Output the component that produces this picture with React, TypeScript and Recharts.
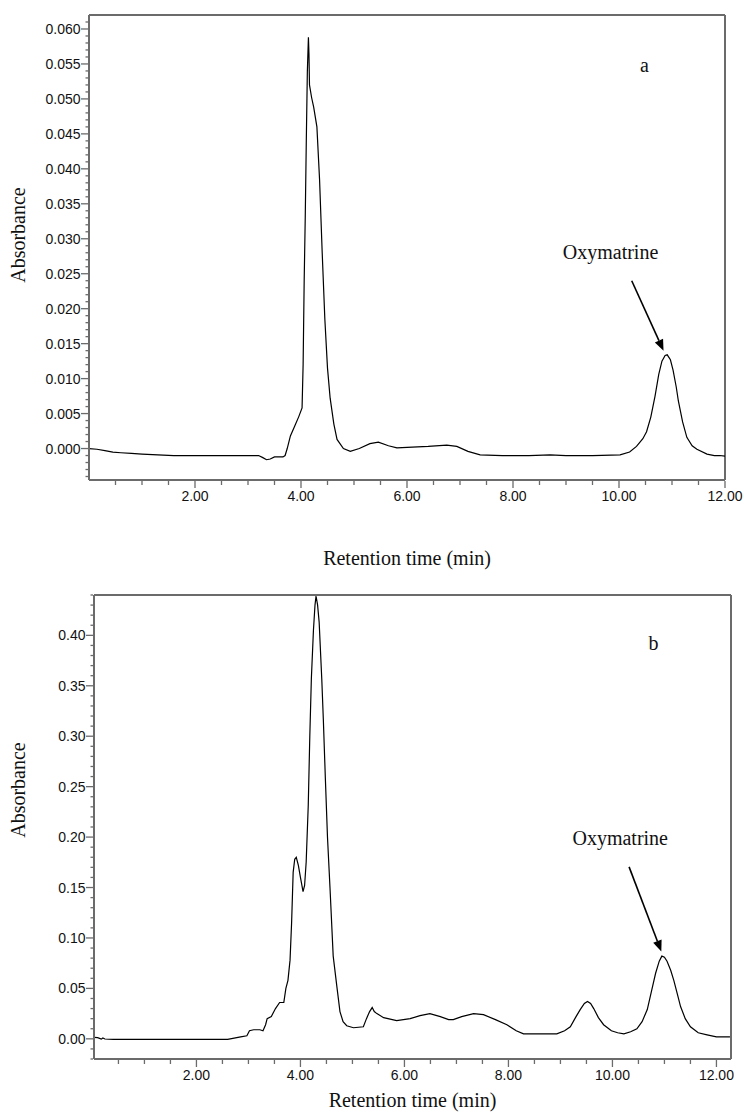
import { LineChart, Line, XAxis, YAxis, ReferenceLine, ReferenceDot } from "recharts";

// chromatogram a (standard)
const timeA = [
  0.0, 0.15, 0.3, 0.45, 0.6, 0.8, 1.0, 1.3, 1.6, 2.0, 2.5, 3.0, 3.2, 3.28, 3.35, 3.42, 3.5, 3.66, 3.7, 3.74,
  3.8, 3.88, 3.96, 4.02, 4.04, 4.06, 4.08, 4.1, 4.12, 4.14, 4.15, 4.16, 4.2, 4.24, 4.3, 4.35, 4.4, 4.45, 4.5,
  4.55, 4.62, 4.68, 4.8, 4.93, 5.1, 5.3, 5.46, 5.65, 5.81, 6.1, 6.4, 6.75, 6.94, 7.15, 7.38, 7.8, 8.3, 8.7,
  9.0, 9.5, 10.02, 10.2, 10.33, 10.45, 10.52, 10.6, 10.68, 10.75, 10.81, 10.87, 10.91, 10.97, 11.02, 11.08,
  11.12, 11.2, 11.28, 11.38, 11.47, 11.66, 11.8, 11.9, 12.0,
];
const absA = [
  0.0, -0.0001, -0.0003, -0.0005, -0.0006, -0.0007, -0.0008, -0.0009, -0.001, -0.001, -0.001, -0.001, -0.001,
  -0.0013, -0.0016, -0.0015, -0.0012, -0.0012, -0.001, 0.0, 0.0018, 0.0032, 0.0046, 0.0058, 0.012, 0.024,
  0.033, 0.044, 0.054, 0.0588, 0.0565, 0.052, 0.0502, 0.0488, 0.046, 0.0385, 0.028, 0.0185, 0.0115, 0.0072,
  0.0035, 0.0013, 0.0, -0.0004, 0.0, 0.0007, 0.0009, 0.0004, 0.0001, 0.0002, 0.0003, 0.0005, 0.0003, -0.0004,
  -0.0009, -0.001, -0.001, -0.0009, -0.001, -0.001, -0.0009, -0.0005, 0.0003, 0.0014, 0.0024, 0.0045, 0.0075,
  0.0106, 0.0125, 0.0133, 0.0134, 0.0127, 0.0112, 0.0088, 0.0068, 0.0038, 0.0016, 0.0004, -0.0001, -0.0008,
  -0.001, -0.001, -0.0011,
];

// chromatogram b (sample)
const timeB = [
  0.03, 0.1, 0.17, 0.2, 0.24, 0.4, 1.0, 2.0, 2.6, 2.7, 2.85, 2.97, 3.02, 3.1, 3.22, 3.28, 3.33, 3.36, 3.44,
  3.52, 3.6, 3.68, 3.72, 3.76, 3.8, 3.83, 3.86, 3.89, 3.92, 3.96, 4.0, 4.05, 4.08, 4.11, 4.15, 4.18, 4.21,
  4.25, 4.28, 4.3, 4.33, 4.36, 4.41, 4.44, 4.48, 4.52, 4.57, 4.63, 4.7, 4.76, 4.82, 4.89, 5.02, 5.21, 5.27,
  5.33, 5.38, 5.42, 5.47, 5.6, 5.85, 6.11, 6.3, 6.49, 6.69, 6.85, 6.94, 7.1, 7.33, 7.52, 7.75, 7.97, 8.15,
  8.29, 8.6, 8.93, 9.08, 9.19, 9.3, 9.38, 9.46, 9.52, 9.58, 9.64, 9.73, 9.83, 9.98, 10.1, 10.22, 10.35,
  10.47, 10.57, 10.67, 10.75, 10.83, 10.9, 10.95, 11.0, 11.05, 11.12, 11.18, 11.25, 11.31, 11.4, 11.5,
  11.65, 11.82, 12.0, 12.26,
];
const absB = [
  0.0015, 0.0012, -0.0003, 0.0008, -0.0002, -0.0005, -0.0005, -0.0005, -0.0005, 0.0005, 0.002, 0.003, 0.008,
  0.009, 0.009, 0.008, 0.014, 0.02, 0.022, 0.03, 0.036, 0.036, 0.05, 0.058, 0.078, 0.115, 0.165, 0.178, 0.18,
  0.172, 0.16, 0.146, 0.152, 0.175, 0.231, 0.3, 0.357, 0.405, 0.43, 0.439, 0.43, 0.413, 0.357, 0.317, 0.257,
  0.2, 0.148, 0.082, 0.052, 0.027, 0.017, 0.013, 0.011, 0.012, 0.02, 0.027, 0.031, 0.027, 0.025, 0.021,
  0.018, 0.02, 0.023, 0.025, 0.022, 0.019, 0.019, 0.022, 0.025, 0.024, 0.019, 0.014, 0.008, 0.005, 0.005,
  0.005, 0.008, 0.012, 0.022, 0.029, 0.035, 0.037, 0.035, 0.03, 0.021, 0.014, 0.008, 0.006, 0.005, 0.007,
  0.01, 0.017, 0.029, 0.047, 0.065, 0.077, 0.082, 0.081, 0.077, 0.068, 0.058, 0.044, 0.032, 0.02, 0.012,
  0.006, 0.004, 0.002, 0.002,
];

const xMajor = [2, 4, 6, 8, 10, 12];
const yMajorA = [0, 0.005, 0.01, 0.015, 0.02, 0.025, 0.03, 0.035, 0.04, 0.045, 0.05, 0.055, 0.06];
const yMajorB = [0, 0.05, 0.1, 0.15, 0.2, 0.25, 0.3, 0.35, 0.4];

const steps = (from: number, to: number, step: number) => {
  const out: number[] = [];
  for (let i = Math.round(from / step); i <= Math.round(to / step); i++) out.push(+(i * step).toFixed(4));
  return out;
};
const xTicks = steps(0.5, 12, 0.5);
const yTicksA = steps(-0.004, 0.061, 0.001);
const yTicksB = steps(-0.02, 0.44, 0.01);

const dataA = timeA.map((t, i) => ({ t, v: absA[i] }));
const dataB = timeB.map((t, i) => ({ t, v: absB[i] }));

const AXIS = "#6b6b6b";
const SANS = "'Liberation Sans', Arial, sans-serif";
const SERIF = "'Liberation Serif', 'Times New Roman', serif";
const isMajor = (v: number, majors: number[]) => majors.some((m) => Math.abs(m - v) < 1e-7);

function XTick(props: any) {
  const { x, y, payload } = props;
  const major = isMajor(payload.value, xMajor);
  return (
    <g>
      <line x1={x} x2={x} y1={y + 1} y2={y + (major ? 8 : 5)} stroke={AXIS} strokeWidth={1.3} />
      {major && (
        <text x={x} y={y + 21} textAnchor="middle" fontFamily={SANS} fontSize={14} fill="#111">
          {payload.value.toFixed(2)}
        </text>
      )}
    </g>
  );
}

function makeYTick(majors: number[], digits: number) {
  return (props: any) => {
    const { x, y, payload } = props;
    const major = isMajor(payload.value, majors);
    return (
      <g>
        <line x1={x - 1} x2={x - (major ? 8 : 3.5)} y1={y} y2={y} stroke={AXIS} strokeWidth={1.3} />
        {major && (
          <text x={x - 8.5} y={y + 5} textAnchor="end" fontFamily={SANS} fontSize={14} fill="#111">
            {payload.value.toFixed(digits)}
          </text>
        )}
      </g>
    );
  };
}

function Arrow(props: any) {
  const { x1, y1, x2, y2 } = props;
  const dx = x2 - x1;
  const dy = y2 - y1;
  const len = Math.sqrt(dx * dx + dy * dy);
  const ux = dx / len;
  const uy = dy / len;
  const hl = 11;
  const hw = 4.5;
  const bx = x2 - ux * hl;
  const by = y2 - uy * hl;
  return (
    <g>
      <line x1={x1} y1={y1} x2={bx} y2={by} stroke="#000" strokeWidth={1.6} />
      <polygon
        points={`${x2},${y2} ${bx - uy * hw},${by + ux * hw} ${bx + uy * hw},${by - ux * hw}`}
        fill="#000"
      />
    </g>
  );
}

const serifText = (label: string, size = 20) => (p: any) => (
  <text x={p.cx} y={p.cy} textAnchor="middle" fontFamily={SERIF} fontSize={size} fill="#111">
    {label}
  </text>
);

function Chromatogram(props: {
  data: { t: number; v: number }[];
  height: number;
  yWidth: number;
  right: number;
  xHeight: number;
  xDomain: [number, number];
  yDomain: [number, number];
  yTicks: number[];
  yTick: any;
  tag: string;
  tagPos: [number, number];
  namePos: [number, number];
  arrow: [[number, number], [number, number]];
  titleY: number;
  yTitle: [number, number];
}) {
  const p = props;
  const plotCenterX = p.yWidth + (744 - p.right - p.yWidth) / 2;
  return (
    <LineChart
      width={744}
      height={p.height}
      data={p.data}
      margin={{ top: 15, right: p.right, bottom: 0, left: 0 }}
    >
      <XAxis
        dataKey="t"
        type="number"
        domain={p.xDomain}
        allowDataOverflow
        ticks={xTicks}
        interval={0}
        tick={XTick}
        tickLine={false}
        tickSize={0}
        tickMargin={0}
        axisLine={{ stroke: AXIS, strokeWidth: 2 }}
        height={p.xHeight}
        label={{
          content: () => (
            <text x={plotCenterX} y={p.titleY} textAnchor="middle" fontFamily={SERIF} fontSize={20} fill="#111">
              Retention time (min)
            </text>
          ),
        }}
      />
      <YAxis
        type="number"
        domain={p.yDomain}
        allowDataOverflow
        ticks={p.yTicks}
        interval={0}
        tick={p.yTick}
        tickLine={false}
        tickSize={0}
        tickMargin={0}
        axisLine={{ stroke: AXIS, strokeWidth: 2 }}
        width={p.yWidth}
        label={{
          content: () => (
            <text
              x={p.yTitle[0]}
              y={p.yTitle[1]}
              transform={`rotate(-90 ${p.yTitle[0]} ${p.yTitle[1]})`}
              textAnchor="middle"
              fontFamily={SERIF}
              fontSize={20}
              fill="#111"
            >
              Absorbance
            </text>
          ),
        }}
      />
      <ReferenceLine y={p.yDomain[1]} stroke={AXIS} strokeWidth={2} />
      <ReferenceLine x={p.xDomain[1]} stroke={AXIS} strokeWidth={2} />
      <Line
        type="linear"
        dataKey="v"
        stroke="#000"
        strokeWidth={1.2}
        dot={false}
        isAnimationActive={false}
      />
      <ReferenceDot x={p.tagPos[0]} y={p.tagPos[1]} r={0} shape={serifText(p.tag)} />
      <ReferenceDot x={p.namePos[0]} y={p.namePos[1]} r={0} shape={serifText("Oxymatrine")} />
      <ReferenceLine
        segment={[
          { x: p.arrow[0][0], y: p.arrow[0][1] },
          { x: p.arrow[1][0], y: p.arrow[1][1] },
        ]}
        shape={Arrow}
      />
    </LineChart>
  );
}

export default function App() {
  return (
    <div style={{ position: "absolute", left: 0, top: 0, width: 744, height: 1113, background: "#fff" }}>
      <Chromatogram
        data={dataA}
        height={580}
        yWidth={89}
        right={19}
        xHeight={100}
        xDomain={[0, 12]}
        yDomain={[-0.0045, 0.062]}
        yTicks={yTicksA}
        yTick={makeYTick(yMajorA, 3)}
        tag="a"
        tagPos={[10.48, 0.0538]}
        namePos={[9.84, 0.0271]}
        arrow={[
          [10.24, 0.024],
          [10.84, 0.014],
        ]}
        titleY={565}
        yTitle={[25, 235]}
      />
      <Chromatogram
        data={dataB}
        height={533}
        yWidth={94}
        right={13}
        xHeight={54}
        xDomain={[0.03, 12.28]}
        yDomain={[-0.02, 0.44]}
        yTicks={yTicksB}
        yTick={makeYTick(yMajorB, 2)}
        tag="b"
        tagPos={[10.79, 0.385]}
        namePos={[10.15, 0.192]}
        arrow={[
          [10.32, 0.1705],
          [10.94, 0.0866],
        ]}
        titleY={527}
        yTitle={[25, 210]}
      />
    </div>
  );
}
